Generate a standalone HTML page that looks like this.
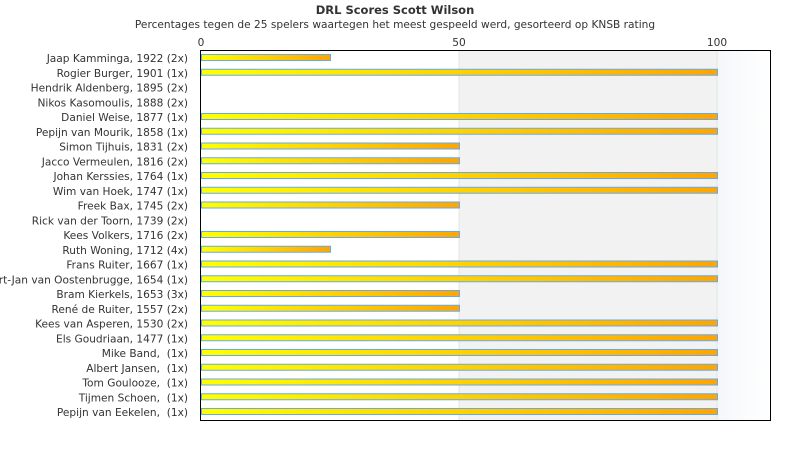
<!DOCTYPE html>
<html><head><meta charset="utf-8"><style>
body{margin:0;background:#fff;}
svg text{font-family:"DejaVu Sans","Liberation Sans",sans-serif;fill:#333;}
</style></head><body>
<svg width="790" height="450" xmlns="http://www.w3.org/2000/svg">
<defs>
<linearGradient id="g" x1="0" x2="1" y1="0" y2="0"><stop offset="0" stop-color="#ffff00"/><stop offset="1" stop-color="#ffa500"/></linearGradient>
<linearGradient id="b" x1="0" x2="1"><stop offset="0" stop-color="#f4f7fa"/><stop offset="1" stop-color="#ffffff"/></linearGradient>
</defs>
<text x="395" y="14" text-anchor="middle" font-size="11.5" font-weight="bold">DRL Scores Scott Wilson</text>
<text x="395" y="28" text-anchor="middle" font-size="10.6">Percentages tegen de 25 spelers waartegen het meest gespeeld werd, gesorteerd op KNSB rating</text>
<text x="201" y="46" text-anchor="middle" font-size="10.6">0</text>
<text x="459" y="46" text-anchor="middle" font-size="10.6">50</text>
<text x="717" y="46" text-anchor="middle" font-size="10.6">100</text>
<rect x="459" y="50" width="258" height="370" fill="#f2f2f2"/>
<rect x="717" y="50" width="53" height="370" fill="url(#b)"/>
<line x1="459" y1="50" x2="459" y2="420" stroke="#e4e4e4"/>
<line x1="717" y1="50" x2="717" y2="420" stroke="#e4e4e4"/>
<rect x="200.5" y="50.5" width="570" height="370" fill="none" stroke="#000"/>
<g id="rows" font-size="10.6"></g>
</svg>
<script>
var d=[["Jaap Kamminga, 1922 (2x)",25],["Rogier Burger, 1901 (1x)",100],["Hendrik Aldenberg, 1895 (2x)",0],["Nikos Kasomoulis, 1888 (2x)",0],["Daniel Weise, 1877 (1x)",100],["Pepijn van Mourik, 1858 (1x)",100],["Simon Tijhuis, 1831 (2x)",50],["Jacco Vermeulen, 1816 (2x)",50],["Johan Kerssies, 1764 (1x)",100],["Wim van Hoek, 1747 (1x)",100],["Freek Bax, 1745 (2x)",50],["Rick van der Toorn, 1739 (2x)",0],["Kees Volkers, 1716 (2x)",50],["Ruth Woning, 1712 (4x)",25],["Frans Ruiter, 1667 (1x)",100],["Gert-Jan van Oostenbrugge, 1654 (1x)",100],["Bram Kierkels, 1653 (3x)",50],["René de Ruiter, 1557 (2x)",50],["Kees van Asperen, 1530 (2x)",100],["Els Goudriaan, 1477 (1x)",100],["Mike Band,&#160; (1x)",100],["Albert Jansen,&#160; (1x)",100],["Tom Goulooze,&#160; (1x)",100],["Tijmen Schoen,&#160; (1x)",100],["Pepijn van Eekelen,&#160; (1x)",100]];
var g=document.getElementById("rows"),s="";
d.forEach(function(r,i){var y=58+i*14.75;
s+='<text x="188" y="'+(y+4)+'" text-anchor="end" fill="#333">'+r[0]+'</text>';
if(r[1]>0){var w=r[1]*5.16;s+='<rect x="201.5" y="'+(y-3.5)+'" width="'+w+'" height="6" fill="url(#g)" stroke="#66aaee" stroke-width="1"/>';}
});
g.innerHTML=s;
</script>
</body></html>
